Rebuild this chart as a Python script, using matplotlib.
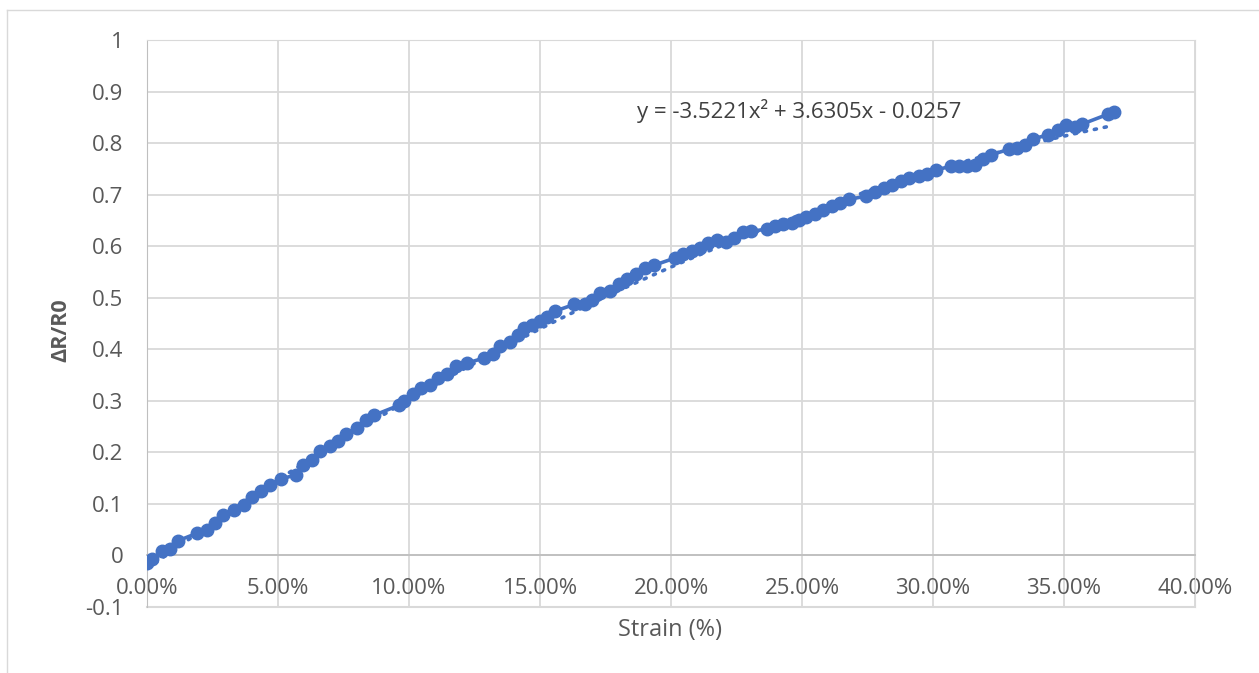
import numpy as np
import matplotlib
matplotlib.use("Agg")
import matplotlib.pyplot as plt
from matplotlib.ticker import FuncFormatter
from matplotlib.lines import Line2D

# strain (fraction) and dR/R0
strain = [0.000, 0.002, 0.0057, 0.0088, 0.012, 0.019, 0.023, 0.026, 0.029, 0.033,
          0.037, 0.040, 0.0435, 0.047, 0.051, 0.057, 0.0595, 0.063, 0.066, 0.070,
          0.073, 0.076, 0.080, 0.0836, 0.0866, 0.096, 0.098, 0.1015, 0.1046, 0.108,
          0.111, 0.1145, 0.118, 0.122, 0.1286, 0.132, 0.1347, 0.1385, 0.1416, 0.144,
          0.147, 0.150, 0.1527, 0.1557, 0.163, 0.167, 0.170, 0.173, 0.1767, 0.180,
          0.183, 0.1866, 0.190, 0.1935, 0.2015, 0.2046, 0.208, 0.211, 0.214, 0.2176,
          0.221, 0.224, 0.2275, 0.2305, 0.2366, 0.2397, 0.2427, 0.246, 0.249, 0.2515,
          0.255, 0.258, 0.2615, 0.2645, 0.268, 0.2744, 0.278, 0.2813, 0.2843, 0.2878,
          0.291, 0.2947, 0.2977, 0.301, 0.307, 0.310, 0.313, 0.316, 0.319, 0.322,
          0.329, 0.332, 0.335, 0.338, 0.344, 0.3477, 0.3508, 0.354, 0.357, 0.3668,
          0.369]
dr_r0 = [-0.015, -0.006, 0.008, 0.012, 0.029, 0.043, 0.050, 0.064, 0.078, 0.089,
         0.097, 0.113, 0.126, 0.136, 0.148, 0.157, 0.175, 0.186, 0.202, 0.212,
         0.223, 0.235, 0.247, 0.262, 0.272, 0.291, 0.299, 0.313, 0.324, 0.330,
         0.344, 0.353, 0.367, 0.373, 0.383, 0.390, 0.406, 0.415, 0.427, 0.441,
         0.447, 0.454, 0.462, 0.474, 0.487, 0.487, 0.495, 0.509, 0.514, 0.526,
         0.536, 0.546, 0.557, 0.563, 0.577, 0.584, 0.590, 0.596, 0.606, 0.612,
         0.608, 0.615, 0.627, 0.629, 0.633, 0.639, 0.643, 0.645, 0.650, 0.656,
         0.662, 0.670, 0.678, 0.683, 0.691, 0.697, 0.705, 0.713, 0.718, 0.726,
         0.732, 0.736, 0.740, 0.748, 0.755, 0.755, 0.755, 0.757, 0.769, 0.777,
         0.788, 0.790, 0.796, 0.808, 0.816, 0.825, 0.835, 0.831, 0.837, 0.856,
         0.860]

# polynomial trendline coefficients shown on the chart
trend_coef = [-3.5221, 3.6305, -0.0257]
trend_label = "y = -3.5221x² + 3.6305x - 0.0257"

blue = '#4472C4'
grid = '#D9D9D9'
txt = '#595959'

plt.rcParams['font.family'] = ['Open Sans', 'DejaVu Sans']

fig = plt.figure(figsize=(12.59, 6.73), dpi=100)
ax = fig.add_axes([0.1168, 0.098, 0.8324, 0.8426])

# outer chart frame (top and left edges visible)
fig.add_artist(Line2D([7/1259, 1.0], [1-10/673, 1-10/673], color='#D9D9D9', lw=1))
fig.add_artist(Line2D([7/1259, 7/1259], [0.0, 1-10/673], color='#D9D9D9', lw=1))

ax.set_xlim(0, 0.40)
ax.set_ylim(-0.1, 1.0)
ax.set_xticks(np.arange(0, 0.401, 0.05))
ax.set_yticks(np.arange(-0.1, 1.001, 0.1))
ax.xaxis.set_major_formatter(FuncFormatter(lambda v, p: "%.2f%%" % (v*100)))
ax.yaxis.set_major_formatter(FuncFormatter(lambda v, p: "%g" % round(v, 1)))
ax.grid(True, color=grid, lw=1.3)
ax.set_axisbelow(True)

for s in ['top', 'right']:
    ax.spines[s].set_color(grid)
ax.spines['left'].set_color('#BFBFBF')
ax.spines['bottom'].set_position(('data', 0))
ax.spines['bottom'].set_color('#BFBFBF')
ax.spines['bottom'].set_linewidth(1.3)
# bottom border of the plot area at -0.1
ax.axhline(-0.1, color=grid, lw=1.5, clip_on=False)

ax.tick_params(axis='both', length=0, labelsize=16, labelcolor=txt)
ax.tick_params(axis='x', pad=16)
ax.tick_params(axis='y', pad=17)

# data: markers joined by line
ax.plot(strain, dr_r0, color=blue, lw=2.6, marker='o', ms=9, zorder=3)

# dotted polynomial trendline
xt = np.array(strain)
ax.plot(xt, np.polyval(trend_coef, xt), color=blue, lw=2.6, ls=(0, (0.6, 2.2)),
        dash_capstyle='round', zorder=2)

ax.text(0.187, 0.862, trend_label, fontsize=16, color='#404040', va='center')

ax.set_xlabel("Strain (%)", fontsize=17, color=txt)
ax.xaxis.set_label_coords(0.499, -0.020)
ax.set_ylabel("ΔR/R0", fontsize=15.5, color=txt, fontweight='bold')
ax.yaxis.set_label_coords(-0.072, 0.488)

fig.savefig("out.png", dpi=100)
